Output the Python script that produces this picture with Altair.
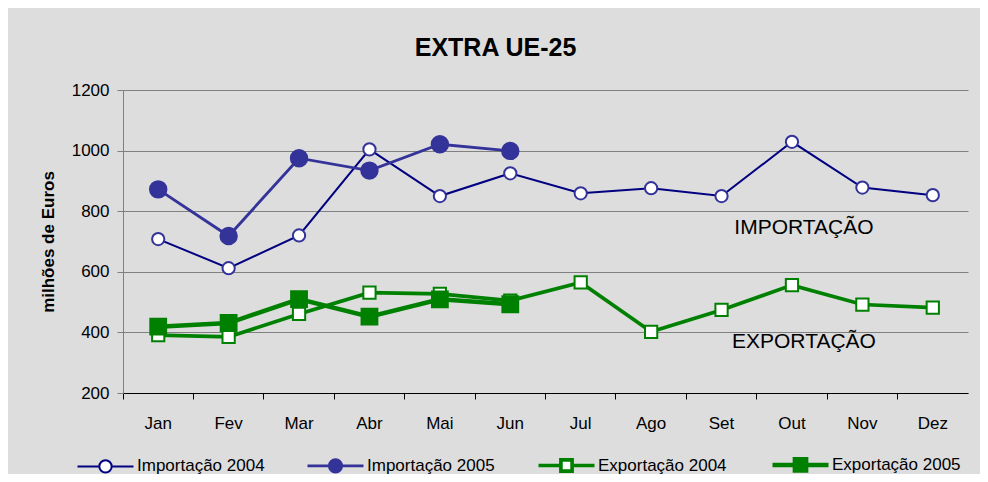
import altair as alt
import pandas as pd

months = ["Jan", "Fev", "Mar", "Abr", "Mai", "Jun", "Jul", "Ago", "Set", "Out", "Nov", "Dez"]
series = ["Importação 2004", "Importação 2005", "Exportação 2004", "Exportação 2005"]
imp_2004 = [708, 612, 720, 1004, 850, 925, 859, 876, 850, 1029, 878, 853]
imp_2005 = [872, 718, 975, 934, 1021, 999]
exp_2004 = [391, 385, 461, 531, 527, 505, 565, 402, 474, 556, 492, 482]
exp_2005 = [419, 431, 510, 452, 509, 493]
ann_labels = ["IMPORTAÇÃO", "EXPORTAÇÃO"]
ann_months = ["Out", "Out"]
ann_values = [745, 368]

rows = []
for s, vals in zip(series, [imp_2004, imp_2005, exp_2004, exp_2005]):
    for m, v in zip(months, vals):
        rows.append({"mes": m, "serie": s, "valor": v})
df = pd.DataFrame(rows)
ann = pd.DataFrame({"label": ann_labels, "mes": ann_months, "valor": ann_values})

FONT = "Liberation Sans"
line_colors = ["#000080", "#333399", "#008000", "#008000"]
marker_stroke = ["#333399", "#333399", "#008000", "#008000"]
marker_fill = ["white", "#333399", "white", "#008000"]
line_widths = [2, 4.5, 2, 4.5]
marker_shapes = ["circle", "circle", "square", "square"]
marker_sizes = [150, 270, 150, 250]

circle_path = "M-1,0L-0.22,0M0.22,0L1,0M-0.22,0A0.22,0.22,0,1,1,0.22,0A0.22,0.22,0,1,1,-0.22,0Z"
square_path = "M-1,0L-0.2,0M0.2,0L1,0M-0.2,-0.2L0.2,-0.2L0.2,0.2L-0.2,0.2Z"
legend_shapes = [circle_path, circle_path, square_path, square_path]

x_enc = alt.X(
    "mes:O",
    sort=months,
    scale=alt.Scale(type="band", paddingInner=0, paddingOuter=0),
    axis=alt.Axis(
        title=None, bandPosition=0, labelAngle=0, labelPadding=16,
        tickSize=6, tickColor="#000000", domainColor="#000000", labelFont=FONT,
        labelFontSize=17, labelColor="#000000", grid=False,
    ),
)
y_enc = alt.Y(
    "valor:Q",
    scale=alt.Scale(domain=[200, 1200], nice=False, zero=False),
    axis=alt.Axis(
        values=[200, 400, 600, 800, 1000, 1200], format="d", title="milhões de Euros",
        titleFont=FONT, titleFontSize=17, titleFontWeight="bold", titleColor="#000000",
        titlePadding=14, labelFont=FONT, labelFontSize=17, labelColor="#000000",
        labelPadding=8, tickSize=6, tickColor="#808080", domainColor="#808080",
        grid=True, gridColor="#808080", gridWidth=1,
    ),
)

legend = alt.Legend(
    orient="none", legendX=-48, legendY=344, direction="horizontal", columns=4,
    title=None, symbolSize=3136, labelFont=FONT, labelFontSize=17,
    labelColor="#000000", labelOffset=1, columnPadding=36, padding=0,
)

color_scale = alt.Scale(domain=series, range=line_colors)
width_scale = alt.Scale(domain=series, range=line_widths)

lines = alt.Chart(df).mark_line().encode(
    x=x_enc,
    y=y_enc,
    color=alt.Color("serie:N", scale=color_scale, legend=legend),
    strokeWidth=alt.StrokeWidth("serie:N", scale=width_scale, legend=legend),
)

point_layers = []
for s, shp, sz, fl, st in zip(series, marker_shapes, marker_sizes, marker_fill, marker_stroke):
    point_layers.append(
        alt.Chart(df)
        .transform_filter(alt.datum.serie == s)
        .mark_point(shape=shp, size=sz, filled=True, fill=fl, stroke=st, strokeWidth=2, opacity=1)
        .encode(x=x_enc, y=y_enc)
    )

texts = alt.Chart(ann).mark_text(font=FONT, fontSize=21, color="#000000", dx=12).encode(
    x=x_enc, y=y_enc, text="label:N"
)

legend_layer = alt.Chart(df).transform_filter("false").mark_point(filled=False, opacity=1).encode(
    color=alt.Color("serie:N", scale=color_scale, legend=legend),
    strokeWidth=alt.StrokeWidth("serie:N", scale=width_scale, legend=legend),
    shape=alt.Shape("serie:N", scale=alt.Scale(domain=series, range=legend_shapes), legend=legend),
    fill=alt.Fill("serie:N", scale=alt.Scale(domain=series, range=marker_fill), legend=legend),
)

chart = alt.layer(lines, *point_layers, texts, legend_layer).properties(
    width=845,
    height=303,
    background="#DDDDDD",
    autosize=alt.AutoSizeParams(type="none"),
    padding={"left": 115, "top": 82, "right": 12, "bottom": 81},
    title=alt.TitleParams(
        "EXTRA UE-25", font=FONT, fontSize=25, fontWeight="bold", color="#000000",
        anchor="middle", frame="group", dx=-50, offset=20,
    ),
).configure_view(fill="white", stroke="transparent")

chart.save("out.html", embed_options={"renderer": "svg", "actions": False})
